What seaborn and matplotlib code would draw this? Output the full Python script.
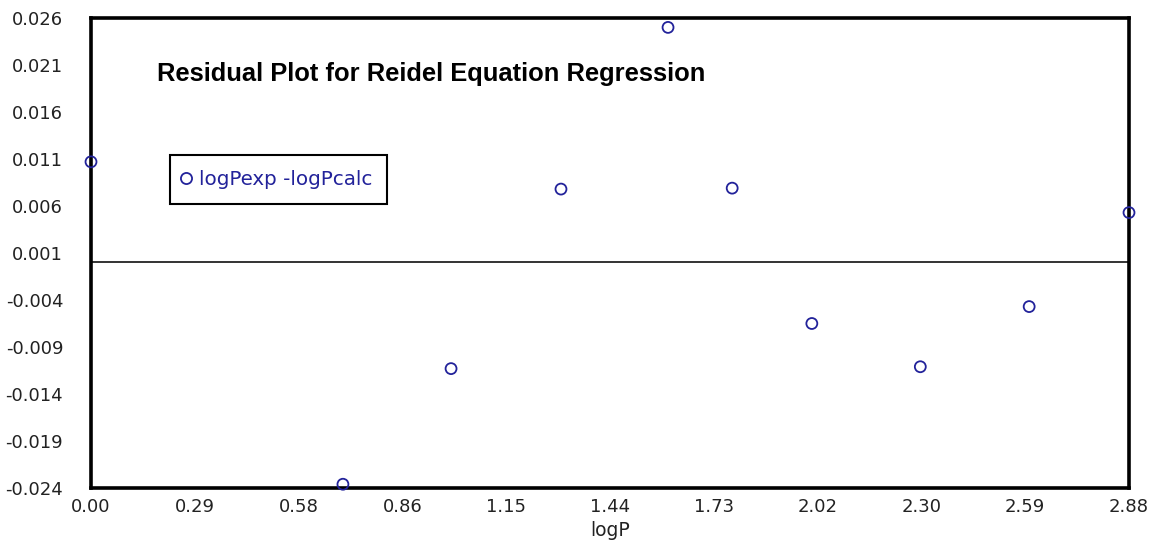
import numpy as np
import pandas as pd
import matplotlib
matplotlib.use("Agg")
import matplotlib.pyplot as plt
import seaborn as sns

# Residuals of the Reidel equation fit
log_p = [0.000, 0.699, 0.999, 1.304, 1.601, 1.779, 2.000, 2.301, 2.603, 2.880]
residual = [0.0107, -0.0236, -0.0113, 0.0078, 0.0250, 0.0079, -0.0065, -0.0111, -0.0047, 0.0053]

x_ticks = [0.00, 0.288, 0.576, 0.864, 1.152, 1.44, 1.728, 2.016, 2.304, 2.592, 2.88]
y_ticks = [-0.024, -0.019, -0.014, -0.009, -0.004, 0.001, 0.006, 0.011, 0.016, 0.021, 0.026]

series_name = "logPexp -logPcalc"
title = "Residual Plot for Reidel Equation Regression"

df = pd.DataFrame({"logP": log_p, "res": residual})

sns.set_style("white")
plt.rcParams["font.family"] = ["DejaVu Sans"]

fig = plt.figure(figsize=(11.6, 5.44), dpi=100)
ax = fig.add_axes([91 / 1160, 1 - 488 / 544, (1129 - 91) / 1160, (488 - 18) / 544])

navy = "#22229a"
ax.axhline(0.0, color="#333333", lw=1.4, zorder=1)
sns.scatterplot(data=df, x="logP", y="res", ax=ax, marker="o", s=62,
                facecolor="none", edgecolor=navy, linewidth=1.3,
                clip_on=False, zorder=5, legend=False)

ax.set_xlim(0, 2.88)
ax.set_ylim(-0.024, 0.026)
ax.set_xticks(x_ticks)
ax.set_xticklabels([f"{v:.2f}" for v in x_ticks])
ax.set_yticks(y_ticks)
ax.set_yticklabels([f"{v:.3f}" for v in y_ticks])
ax.tick_params(direction="in", length=5, width=1, color="#777777",
               labelsize=13, labelcolor="#222222")
ax.tick_params(axis="y", pad=20)
ax.tick_params(axis="x", pad=7)
for sp in ax.spines.values():
    sp.set_visible(True)
    sp.set_color("black")
    sp.set_linewidth(2.6)

ax.set_xlabel("logP", fontsize=13.5, color="#222222", labelpad=4)
ax.set_ylabel("")

ax.text((157 - 91) / 1038, 1 - (74 - 18) / 470, title, transform=ax.transAxes,
        fontsize=18.4, fontweight="bold", color="black", va="center", ha="left",
        family="Liberation Sans")

handle = plt.Line2D([], [], ls="none", marker="o", markersize=8,
                    markerfacecolor="none", markeredgecolor=navy, markeredgewidth=1.3)
leg = ax.legend([handle], [series_name], loc="upper left",
                bbox_to_anchor=((170 - 91) / 1038, 1 - (155 - 18) / 470), fontsize=14.3,
                frameon=True, fancybox=False, borderpad=0.75, handletextpad=0.6,
                handlelength=0.1, labelcolor=navy, borderaxespad=0)
frame = leg.get_frame()
frame.set_edgecolor("black")
frame.set_linewidth(1.5)
frame.set_alpha(1)

fig.savefig("out.png", dpi=100)
